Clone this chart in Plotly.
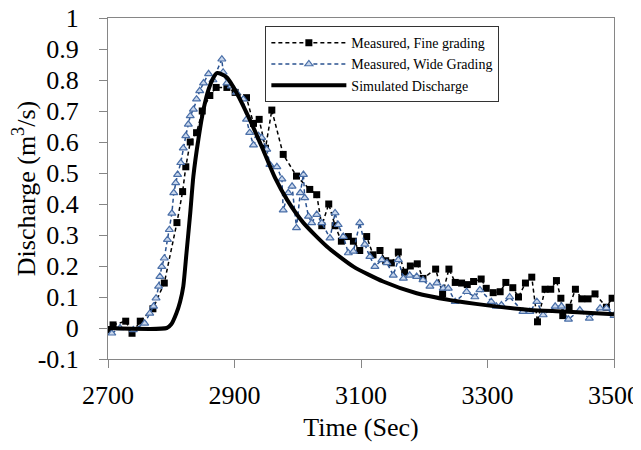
import plotly.graph_objects as go

# Measured, Fine grading
fine_t = [2700, 2708, 2728, 2738, 2751, 2771, 2789, 2809, 2818, 2823, 2830, 2840, 2849, 2861,
          2871, 2888, 2901, 2919, 2930, 2939, 2949, 2959, 2977, 2998, 3019, 3030, 3038, 3049,
          3059, 3069, 3080, 3088, 3098, 3109, 3119, 3130, 3139, 3148, 3159, 3169, 3178, 3189,
          3198, 3218, 3229, 3239, 3249, 3259, 3268, 3278, 3290, 3298, 3309, 3320, 3329, 3340,
          3349, 3360, 3370, 3379, 3391, 3400, 3409, 3416, 3419, 3429, 3439, 3449, 3459, 3470,
          3488, 3497]
fine_v = [-0.006, 0.01, 0.022, -0.017, 0.022, 0.062, 0.145, 0.34, 0.44, 0.52, 0.60, 0.63, 0.70, 0.75,
          0.776, 0.776, 0.76, 0.743, 0.66, 0.673, 0.58, 0.703, 0.56, 0.49, 0.447, 0.43, 0.33, 0.40,
          0.33, 0.28, 0.295, 0.28, 0.25, 0.295, 0.236, 0.25, 0.217, 0.21, 0.245, 0.18, 0.20, 0.207,
          0.16, 0.19, 0.11, 0.19, 0.147, 0.145, 0.14, 0.15, 0.158, 0.128, 0.114, 0.117, 0.147, 0.13,
          0.10, 0.145, 0.164, 0.02, 0.125, 0.125, 0.153, 0.096, 0.04, 0.067, 0.125, 0.094, 0.094, 0.11,
          0.067, 0.096]

# Measured, Wide Grading
wide_t = [2706, 2719, 2740, 2758, 2766, 2772, 2776, 2780, 2782, 2785, 2789, 2794, 2797, 2801,
          2804, 2807, 2810, 2815, 2819, 2823, 2827, 2830, 2835, 2840, 2845, 2851, 2859, 2866,
          2880, 2882, 2888, 2895, 2903, 2914, 2919, 2924, 2930, 2938, 2943, 2951, 2956, 2967,
          2975, 2977, 2985, 2991, 2998, 3004, 3009, 3011, 3017, 3022, 3030, 3038, 3051, 3059,
          3064, 3072, 3080, 3088, 3098, 3106, 3114, 3122, 3133, 3141, 3151, 3159, 3167, 3177,
          3188, 3198, 3209, 3220, 3230, 3238, 3249, 3267, 3280, 3288, 3306, 3314, 3322, 3335,
          3356, 3367, 3378, 3388, 3407, 3417, 3428, 3446, 3461, 3478, 3488, 3500]
wide_v = [-0.017, 0.0, -0.006, 0.015, 0.047, 0.07, 0.096, 0.134, 0.166, 0.198, 0.225, 0.285, 0.317, 0.37,
          0.436, 0.468, 0.495, 0.533, 0.58, 0.62, 0.657, 0.684, 0.705, 0.738, 0.765, 0.79, 0.82, 0.80,
          0.867, 0.825, 0.79, 0.78, 0.76, 0.738, 0.673, 0.63, 0.59, 0.62, 0.614, 0.576, 0.527, 0.52,
          0.48, 0.38, 0.436, 0.457, 0.323, 0.436, 0.495, 0.42, 0.36, 0.339, 0.366, 0.339, 0.29, 0.371,
          0.333, 0.295, 0.242, 0.247, 0.339, 0.27, 0.23, 0.198, 0.22, 0.21, 0.17, 0.22, 0.16, 0.17,
          0.166, 0.155, 0.134, 0.145, 0.128, 0.128, 0.085, 0.117, 0.10, 0.123, 0.085, 0.07, 0.074, 0.10,
          0.053, 0.053, 0.085, 0.042, 0.07, 0.07, 0.028, 0.058, 0.031, 0.064, 0.064, 0.04]

# Simulated Discharge
sim_t = [2700, 2793, 2800, 2808, 2814, 2819, 2824, 2830, 2835, 2843, 2851, 2859, 2866, 2872,
         2880, 2888, 2903, 2924, 2945, 2964, 2983, 3009, 3046, 3088, 3135, 3188, 3241, 3300,
         3367, 3420, 3500]
sim_v = [0.0, 0.0, 0.012, 0.047, 0.085, 0.134, 0.24, 0.37, 0.49, 0.61, 0.705, 0.77, 0.805, 0.822,
         0.818, 0.808, 0.76, 0.673, 0.576, 0.485, 0.414, 0.339, 0.263, 0.198, 0.15, 0.112, 0.09, 0.073,
         0.058, 0.053, 0.044]

x_ticks = [2700, 2900, 3100, 3300, 3500]
y_ticks = [-0.1, 0, 0.1, 0.2, 0.3, 0.4, 0.5, 0.6, 0.7, 0.8, 0.9, 1]
y_labels = ["-0.1", "0", "0.1", "0.2", "0.3", "0.4", "0.5", "0.6", "0.7", "0.8", "0.9", "1"]

FONT = "Liberation Serif, Times New Roman, serif"
AXIS_GRAY = "#868686"

fig = go.Figure()
fig.add_trace(go.Scatter(
    x=fine_t, y=fine_v, mode="lines+markers", name="Measured, Fine grading",
    line=dict(color="black", width=1.5, dash="4px,3px"),
    marker=dict(symbol="square", size=7, color="black"),
))
fig.add_trace(go.Scatter(
    x=wide_t, y=wide_v, mode="lines+markers", name="Measured, Wide Grading",
    line=dict(color="#2A5290", width=1.5, dash="4px,3px"),
    marker=dict(symbol="triangle-up", size=7, color="#C9D7EC",
                line=dict(color="#4A6FA8", width=1.2)),
))
fig.add_trace(go.Scatter(
    x=sim_t, y=sim_v, mode="lines", name="Simulated Discharge",
    line=dict(color="black", width=4, shape="spline", smoothing=0.6),
))

fig.update_layout(
    width=633, height=434,
    margin=dict(l=100, r=27, t=10, b=83, autoexpand=False),
    paper_bgcolor="white", plot_bgcolor="white",
    font=dict(family=FONT, size=26, color="black"),
    showlegend=True,
    legend=dict(
        x=0.311, y=0.976, xanchor="left", yanchor="top",
        bgcolor="white", bordercolor="#333333", borderwidth=1,
        font=dict(family=FONT, size=14, color="black"),
        itemwidth=75, tracegroupgap=0,
    ),
    xaxis=dict(
        range=[2700, 3500], tickvals=x_ticks, ticks="outside", ticklen=8,
        tickcolor=AXIS_GRAY, showline=True, linecolor=AXIS_GRAY, linewidth=1,
        mirror=True, showgrid=False, zeroline=False, automargin=False,
        ticklabelstandoff=5, ticklabeloverflow="allow",
        tickfont=dict(family=FONT, size=26),
        title=dict(text="Time (Sec)", font=dict(family=FONT, size=26), standoff=8),
    ),
    yaxis=dict(
        range=[-0.1, 1], tickvals=y_ticks, ticktext=y_labels, ticks="outside", ticklen=8,
        tickcolor=AXIS_GRAY, showline=True, linecolor=AXIS_GRAY, linewidth=1,
        mirror=True, showgrid=False, zeroline=False, automargin=False,
        ticklabelstandoff=15, ticklabeloverflow="allow",
        tickfont=dict(family=FONT, size=26),
        title=dict(text="Discharge (m<sup>3</sup>/s)", font=dict(family=FONT, size=26), standoff=12),
    ),
)

fig.write_html("out.html")
